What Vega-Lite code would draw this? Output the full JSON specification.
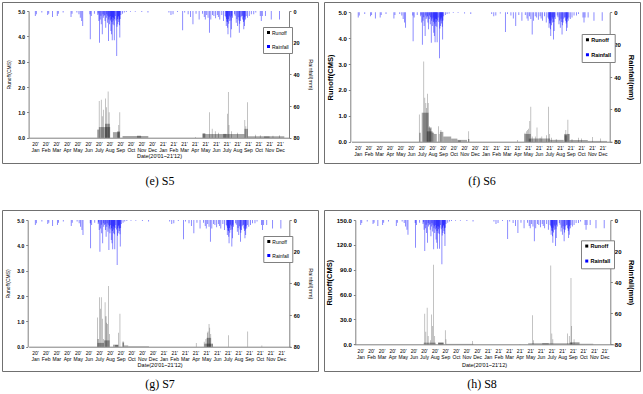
{
  "$schema": "https://vega.github.io/schema/vega-lite/v6.json",
  "padding": {"left": 1, "top": 1, "right": 0, "bottom": 0},
  "background": "white",
  "columns": 2,
  "spacing": {"row": 47, "column": 6},
  "bounds": "flush",
  "resolve": {"scale": {"color": "independent"}, "legend": {"color": "independent"}},
  "datasets": {
    "rain": [
      {"d":1,"mm":3.2},{"d":4,"mm":2},{"d":20,"mm":1},{"d":37,"mm":2.5},{"d":40,"mm":1.7},{"d":51,"mm":3.8},{"d":65,"mm":3.2},{"d":68,"mm":1.7},{"d":82,"mm":1},{"d":105,"mm":3.8},{"d":108,"mm":1.7},{"d":122,"mm":1},{"d":128,"mm":2},{"d":132,"mm":4.2},{"d":136,"mm":6.3},{"d":139,"mm":9.5},{"d":160,"mm":2},{"d":161,"mm":17.9},{"d":164,"mm":3.2},{"d":173,"mm":1.7},{"d":183,"mm":2.5},{"d":184,"mm":1.5},{"d":186,"mm":6.3},{"d":188,"mm":20},{"d":190,"mm":5.3},{"d":192,"mm":3},{"d":193,"mm":8.4},{"d":196,"mm":14.7},{"d":198,"mm":2},{"d":199,"mm":4.2},{"d":201,"mm":3.2},{"d":203,"mm":2.5},{"d":204,"mm":6.3},{"d":206,"mm":10.5},{"d":208,"mm":4.2},{"d":209,"mm":2},{"d":211,"mm":7.4},{"d":212,"mm":3},{"d":214,"mm":18.9},{"d":215,"mm":5.3},{"d":216,"mm":4},{"d":217,"mm":8.4},{"d":219,"mm":3.2},{"d":220,"mm":6},{"d":221,"mm":12.6},{"d":222,"mm":5},{"d":223,"mm":14.7},{"d":224,"mm":7},{"d":225,"mm":18.5},{"d":226,"mm":4},{"d":227,"mm":8.4},{"d":228,"mm":6},{"d":229,"mm":4.2},{"d":230,"mm":9},{"d":231,"mm":18.5},{"d":232,"mm":5},{"d":234,"mm":3.2},{"d":236,"mm":6},{"d":238,"mm":28.4},{"d":239,"mm":10},{"d":240,"mm":5},{"d":241,"mm":8.4},{"d":242,"mm":4},{"d":243,"mm":3.2},{"d":244,"mm":7},{"d":245,"mm":5.3},{"d":246,"mm":9},{"d":247,"mm":16.8},{"d":248,"mm":5},{"d":250,"mm":2.5},{"d":255,"mm":1.7},{"d":260,"mm":1},{"d":266,"mm":0.7},{"d":278,"mm":0.5},{"d":292,"mm":0.5},{"d":311,"mm":0.7},{"d":329,"mm":1},{"d":390,"mm":1},{"d":396,"mm":2.5},{"d":402,"mm":2},{"d":415,"mm":0.7},{"d":430,"mm":12.2},{"d":436,"mm":1},{"d":446,"mm":2},{"d":453,"mm":3.8},{"d":460,"mm":8.4},{"d":469,"mm":1.7},{"d":478,"mm":5.3},{"d":488,"mm":1.7},{"d":493,"mm":3.8},{"d":496,"mm":5.3},{"d":500,"mm":2.5},{"d":504,"mm":4.2},{"d":508,"mm":13.7},{"d":512,"mm":5.3},{"d":517,"mm":2.5},{"d":521,"mm":3.2},{"d":526,"mm":4.6},{"d":531,"mm":2.5},{"d":534,"mm":3.8},{"d":538,"mm":5.3},{"d":544,"mm":2.5},{"d":549,"mm":6.3},{"d":554,"mm":3.2},{"d":556,"mm":4},{"d":557,"mm":9.5},{"d":558,"mm":5},{"d":559,"mm":6.7},{"d":560,"mm":7},{"d":561,"mm":10.5},{"d":562,"mm":14.7},{"d":563,"mm":5},{"d":564,"mm":8},{"d":566,"mm":3},{"d":567,"mm":6.3},{"d":568,"mm":4},{"d":570,"mm":16.8},{"d":571,"mm":6},{"d":572,"mm":11.6},{"d":573,"mm":3},{"d":575,"mm":4.2},{"d":581,"mm":2},{"d":583,"mm":3},{"d":586,"mm":7.4},{"d":588,"mm":5},{"d":590,"mm":9.5},{"d":592,"mm":4},{"d":594,"mm":6},{"d":595,"mm":13.7},{"d":596,"mm":8},{"d":598,"mm":6.3},{"d":600,"mm":4},{"d":602,"mm":3.2},{"d":604,"mm":3},{"d":605,"mm":5.3},{"d":607,"mm":7},{"d":608,"mm":11.6},{"d":609,"mm":6},{"d":610,"mm":9.5},{"d":611,"mm":4},{"d":613,"mm":5.3},{"d":615,"mm":3.2},{"d":619,"mm":4.2},{"d":624,"mm":3.2},{"d":630,"mm":2},{"d":637,"mm":2},{"d":643,"mm":1},{"d":656,"mm":3.2},{"d":659,"mm":6.3},{"d":662,"mm":3.2},{"d":671,"mm":3.2},{"d":688,"mm":5.3},{"d":712,"mm":5.3}
    ],
    "S5": [
      {"d0":186,"d1":188,"v":1.45},{"d0":192,"d1":194,"v":1.5},{"d0":195,"d1":197,"v":0.85},{"d0":198,"d1":200,"v":1.1},{"d0":204,"d1":206,"v":1.55},{"d0":207,"d1":209,"v":1.2},{"d0":212,"d1":214,"v":1.82},{"d0":215,"d1":217,"v":1.0},
      {"d0":181,"d1":187,"v":0.32},{"d0":186,"d1":219,"v":0.42},{"d0":204,"d1":218,"v":0.55},
      {"d0":227,"d1":247,"v":0.22},{"d0":239,"d1":247,"v":0.25},{"d0":243,"d1":245,"v":0.5},{"d0":246,"d1":248,"v":1.0},
      {"d0":255,"d1":330,"v":0.07},{"d0":297,"d1":309,"v":0.08},
      {"d0":466,"d1":468,"v":0.03},{"d0":488,"d1":610,"v":0.15},{"d0":488,"d1":496,"v":0.18},{"d0":548,"d1":558,"v":0.15},{"d0":610,"d1":620,"v":0.35},{"d0":610,"d1":612,"v":0.7},{"d0":613,"d1":615,"v":0.45},{"d0":618,"d1":620,"v":1.4},{"d0":620,"d1":726,"v":0.06},{"d0":667,"d1":683,"v":0.05},
      {"d0":507,"d1":509,"v":1.0},{"d0":515,"d1":517,"v":0.35},{"d0":524,"d1":526,"v":0.25},{"d0":533,"d1":535,"v":0.2},{"d0":560,"d1":562,"v":0.95},{"d0":562,"d1":564,"v":1.8},{"d0":564,"d1":566,"v":0.5},{"d0":571,"d1":573,"v":0.25},{"d0":589,"d1":591,"v":0.2},{"d0":641,"d1":643,"v":0.12},{"d0":655,"d1":657,"v":0.1},{"d0":692,"d1":694,"v":0.08},{"d0":711,"d1":713,"v":0.1}
    ],
    "S6": [
      {"d0":178,"d1":180,"v":1.05},{"d0":179,"d1":183,"v":0.35},
      {"d0":186,"d1":206,"v":1.12},{"d0":206,"d1":215,"v":0.55},{"d0":215,"d1":222,"v":0.35},{"d0":201,"d1":218,"v":0.4},
      {"d0":191,"d1":193,"v":3.1},{"d0":194,"d1":196,"v":1.7},{"d0":197,"d1":199,"v":1.5},{"d0":199,"d1":201,"v":1.3},{"d0":202,"d1":204,"v":1.85},{"d0":204,"d1":206,"v":1.5},{"d0":208,"d1":210,"v":0.6},{"d0":211,"d1":213,"v":0.5},
      {"d0":221,"d1":230,"v":0.3},{"d0":234,"d1":236,"v":0.6},{"d0":236,"d1":238,"v":0.3},{"d0":239,"d1":249,"v":0.38},{"d0":241,"d1":243,"v":0.45},{"d0":249,"d1":272,"v":0.2},{"d0":272,"d1":290,"v":0.12},{"d0":290,"d1":318,"v":0.07},{"d0":292,"d1":300,"v":0.05},{"d0":322,"d1":324,"v":0.4},{"d0":321,"d1":325,"v":0.1},
      {"d0":464,"d1":466,"v":0.07},{"d0":485,"d1":504,"v":0.3},{"d0":486,"d1":488,"v":0.35},{"d0":490,"d1":492,"v":0.4},{"d0":493,"d1":495,"v":0.45},{"d0":496,"d1":498,"v":0.5},{"d0":500,"d1":502,"v":0.8},{"d0":503,"d1":505,"v":1.35},{"d0":498,"d1":504,"v":0.12},{"d0":504,"d1":560,"v":0.12},{"d0":507,"d1":509,"v":0.2},{"d0":516,"d1":518,"v":0.2},{"d0":521,"d1":523,"v":0.55},{"d0":530,"d1":532,"v":0.15},{"d0":535,"d1":537,"v":0.2},{"d0":549,"d1":551,"v":0.25},{"d0":555,"d1":557,"v":1.35},{"d0":558,"d1":560,"v":0.3},{"d0":563,"d1":565,"v":0.15},{"d0":560,"d1":600,"v":0.07},{"d0":577,"d1":579,"v":0.1},{"d0":601,"d1":617,"v":0.3},{"d0":602,"d1":610,"v":0.25},{"d0":605,"d1":607,"v":0.45},{"d0":611,"d1":613,"v":0.85},{"d0":614,"d1":616,"v":0.3},{"d0":617,"d1":670,"v":0.07},{"d0":623,"d1":625,"v":0.1},{"d0":642,"d1":644,"v":0.15},{"d0":651,"d1":653,"v":0.12},{"d0":683,"d1":685,"v":0.18},{"d0":706,"d1":708,"v":0.12},{"d0":670,"d1":726,"v":0.03}
    ],
    "S7": [
      {"d0":180,"d1":182,"v":1.15},{"d0":181,"d1":185,"v":0.3},
      {"d0":186,"d1":188,"v":1.95},{"d0":189,"d1":191,"v":1.5},{"d0":191,"d1":193,"v":1.95},{"d0":194,"d1":196,"v":1.1},{"d0":197,"d1":199,"v":0.3},
      {"d0":181,"d1":200,"v":0.15},{"d0":200,"d1":216,"v":0.25},
      {"d0":202,"d1":204,"v":1.75},{"d0":204,"d1":207,"v":1.2},{"d0":206,"d1":208,"v":0.95},{"d0":209,"d1":211,"v":0.9},{"d0":212,"d1":214,"v":2.4},{"d0":215,"d1":217,"v":0.5},
      {"d0":226,"d1":241,"v":0.08},{"d0":232,"d1":241,"v":0.07},{"d0":241,"d1":243,"v":0.55},{"d0":245,"d1":247,"v":1.3},
      {"d0":253,"d1":258,"v":0.2},{"d0":254,"d1":257,"v":0.15},{"d0":258,"d1":270,"v":0.05},{"d0":270,"d1":330,"v":0.02},
      {"d0":466,"d1":468,"v":0.15},{"d0":490,"d1":515,"v":0.12},{"d0":497,"d1":510,"v":0.35},{"d0":489,"d1":491,"v":0.2},{"d0":494,"d1":496,"v":0.3},{"d0":498,"d1":500,"v":0.55},{"d0":500,"d1":502,"v":0.6},{"d0":503,"d1":505,"v":0.9},{"d0":505,"d1":507,"v":0.75},{"d0":508,"d1":510,"v":0.5},{"d0":513,"d1":515,"v":0.12},{"d0":559,"d1":561,"v":0.45},{"d0":615,"d1":617,"v":0.6},{"d0":656,"d1":658,"v":0.05}
    ],
    "S8": [
      {"d0":187,"d1":189,"v":37},{"d0":190,"d1":192,"v":15},{"d0":194,"d1":196,"v":44},{"d0":197,"d1":199,"v":10},{"d0":204,"d1":206,"v":5},{"d0":207,"d1":209,"v":36},{"d0":210,"d1":212,"v":22},{"d0":213,"d1":215,"v":96},{"d0":216,"d1":218,"v":10},{"d0":185,"d1":220,"v":2},
      {"d0":227,"d1":243,"v":2.2},{"d0":227,"d1":243,"v":1.8},{"d0":247,"d1":249,"v":17},{"d0":249,"d1":251,"v":6},{"d0":250,"d1":330,"v":0.5},{"d0":326,"d1":328,"v":4},
      {"d0":465,"d1":467,"v":0.5},{"d0":490,"d1":620,"v":1.2},{"d0":531,"d1":550,"v":1.3},{"d0":620,"d1":680,"v":0.8},{"d0":612,"d1":640,"v":2.5},
      {"d0":502,"d1":504,"v":35},{"d0":505,"d1":507,"v":5},{"d0":555,"d1":557,"v":95},{"d0":558,"d1":560,"v":13},{"d0":561,"d1":563,"v":6},{"d0":604,"d1":606,"v":13},{"d0":609,"d1":611,"v":10},{"d0":614,"d1":616,"v":80},{"d0":616,"d1":618,"v":22},{"d0":623,"d1":625,"v":6}
    ]
  },
  "concat": [
    {
      "width": 316, "height": 161,
      "title": {"text": "(e) S5", "orient": "bottom", "offset": 13},
      "layer": [
        {
          "data": {"name": "S5"},
          "mark": {"type": "rect", "opacity": 0.35},
          "encoding": {
            "x": {"field": "d0", "type": "quantitative", "scale": {"domain": [-4, 726], "range": [26.6, 287.3], "nice": false, "zero": false},
                  "axis": {"orient": "bottom", "offset": -25.3, "values": [0,31,62,93,124,155,186,217,248,279,310,341,372,403,434,465,496,527,558,589,620,651,682,713], "labelExpr": "[datum.value < 366 ? \"20'\" : \"21'\", ['Jan','Feb','Mar','Apr','May','Jun','July','Aug','Sep','Oct','Nov','Dec'][round(datum.value / 31) % 12]]", "ticks": false, "labelFontSize": 5, "labelLineHeight": 6, "labelPadding": 4, "labelOverlap": false, "labelFlush": false, "labelAngle": 0, "domainColor": "#808080", "title": "Date(20'01~21'12)", "titleFontSize": 5.5, "titleFontWeight": "normal", "titlePadding": 1}},
            "x2": {"field": "d1"},
            "y": {"field": "v", "type": "quantitative", "scale": {"domain": [0, 5], "range": [135.7, 9], "nice": false},
                  "axis": {"orient": "left", "offset": -26.6, "values": [0,1,2,3,4,5], "format": ".1f", "labelFontSize": 5, "labelFontWeight": "bold", "tickSize": 2, "tickColor": "#808080", "domainColor": "#808080", "labelPadding": 2, "title": "Runoff(CMS)", "titleFontSize": 5, "titleFontWeight": "normal", "titlePadding": 6}},
            "y2": {"datum": 0},
            "color": {"datum": "Runoff", "type": "nominal", "scale": {"domain": ["Runoff", "Rainfall"], "range": ["#000000", "#0000ff"]},
                      "legend": {"title": null, "orient": "none", "legendX": 261, "legendY": 25, "symbolType": "square", "symbolSize": 9, "symbolOpacity": 1, "symbolStrokeWidth": 0, "labelFontSize": 5, "labelOffset": 1, "rowPadding": 8, "padding": 3, "strokeColor": "#808080", "fillColor": "#ffffff", "encode": {"symbols": {"update": {"opacity": {"value": 1}, "fillOpacity": {"value": 1}}}}}}
          }
        },
        {
          "data": {"name": "rain"},
          "mark": {"type": "bar", "orient": "vertical", "width": 0.9, "opacity": 0.5},
          "encoding": {
            "x": {"field": "d", "type": "quantitative", "scale": {"domain": [-4, 726], "range": [26.6, 287.3], "nice": false, "zero": false},
                  "axis": {"orient": "bottom", "offset": -25.3, "values": [0,31,62,93,124,155,186,217,248,279,310,341,372,403,434,465,496,527,558,589,620,651,682,713], "labelExpr": "[datum.value < 366 ? \"20'\" : \"21'\", ['Jan','Feb','Mar','Apr','May','Jun','July','Aug','Sep','Oct','Nov','Dec'][round(datum.value / 31) % 12]]", "ticks": false, "labelFontSize": 5, "labelLineHeight": 6, "labelPadding": 4, "labelOverlap": false, "labelFlush": false, "labelAngle": 0, "domainColor": "#808080", "title": "Date(20'01~21'12)", "titleFontSize": 5.5, "titleFontWeight": "normal", "titlePadding": 1}},
            "y": {"field": "mm", "type": "quantitative", "scale": {"domain": [0, 80], "range": [9, 135.7], "nice": false},
                  "axis": {"orient": "right", "offset": -29, "values": [0,20,40,60,80], "labelFontSize": 5.5, "labelFontWeight": "bold", "tickSize": 2, "tickColor": "#808080", "domainColor": "#808080", "labelPadding": 2, "title": "Rainfall(mm)", "titleFontSize": 5.5, "titleFontWeight": "normal", "titlePadding": 8}},
            "color": {"datum": "Rainfall", "type": "nominal"}
          }
        }
      ],
      "resolve": {"scale": {"y": "independent"}}
    },
    {
      "width": 316, "height": 161,
      "title": {"text": "(f) S6", "orient": "bottom", "offset": 13},
      "layer": [
        {
          "data": {"name": "S6"},
          "mark": {"type": "rect", "opacity": 0.35},
          "encoding": {
            "x": {"field": "d0", "type": "quantitative", "scale": {"domain": [-4, 726], "range": [27.5, 288], "nice": false, "zero": false},
                  "axis": {"orient": "bottom", "offset": -21.3, "values": [0,31,62,93,124,155,186,217,248,279,310,341,372,403,434,465,496,527,558,589,620,651,682,713], "labelExpr": "[datum.value < 366 ? \"20'\" : \"21'\", ['Jan','Feb','Mar','Apr','May','Jun','July','Aug','Sep','Oct','Nov','Dec'][round(datum.value / 31) % 12]]", "ticks": false, "labelFontSize": 5, "labelLineHeight": 6, "labelPadding": 4, "labelOverlap": false, "labelFlush": false, "labelAngle": 0, "domainColor": "#808080", "title": null}},
            "x2": {"field": "d1"},
            "y": {"field": "v", "type": "quantitative", "scale": {"domain": [0, 5], "range": [139.7, 10.3], "nice": false},
                  "axis": {"orient": "left", "offset": -26.3, "values": [0,1,2,3,4,5], "format": ".1f", "labelFontSize": 6, "labelFontWeight": "bold", "tickSize": 2, "tickColor": "#808080", "domainColor": "#808080", "labelPadding": 2, "title": "Runoff(CMS)", "titleFontSize": 7.5, "titleFontWeight": "bold", "titlePadding": 3}},
            "y2": {"datum": 0},
            "color": {"datum": "Runoff", "type": "nominal", "scale": {"domain": ["Runoff", "Rainfall"], "range": ["#000000", "#0000ff"]},
                      "legend": {"title": null, "orient": "none", "legendX": 257.7, "legendY": 32, "symbolType": "square", "symbolSize": 9, "symbolOpacity": 1, "symbolStrokeWidth": 0, "labelFontSize": 5.5, "labelFontWeight": "bold", "labelOffset": 1, "rowPadding": 8, "padding": 3, "strokeColor": "#808080", "fillColor": "#ffffff", "encode": {"symbols": {"update": {"opacity": {"value": 1}, "fillOpacity": {"value": 1}}}}}}
          }
        },
        {
          "data": {"name": "rain"},
          "mark": {"type": "bar", "orient": "vertical", "width": 0.9, "opacity": 0.5},
          "encoding": {
            "x": {"field": "d", "type": "quantitative", "scale": {"domain": [-4, 726], "range": [27.5, 288], "nice": false, "zero": false},
                  "axis": {"orient": "bottom", "offset": -21.3, "values": [0,31,62,93,124,155,186,217,248,279,310,341,372,403,434,465,496,527,558,589,620,651,682,713], "labelExpr": "[datum.value < 366 ? \"20'\" : \"21'\", ['Jan','Feb','Mar','Apr','May','Jun','July','Aug','Sep','Oct','Nov','Dec'][round(datum.value / 31) % 12]]", "ticks": false, "labelFontSize": 5, "labelLineHeight": 6, "labelPadding": 4, "labelOverlap": false, "labelFlush": false, "labelAngle": 0, "domainColor": "#808080", "title": null}},
            "y": {"field": "mm", "type": "quantitative", "scale": {"domain": [0, 80], "range": [10.3, 139.7], "nice": false},
                  "axis": {"orient": "right", "offset": -30.3, "values": [0,20,40,60,80], "labelFontSize": 6, "labelFontWeight": "bold", "tickSize": 2, "tickColor": "#808080", "domainColor": "#808080", "labelPadding": 2, "title": "Rainfall(mm)", "titleFontSize": 7.5, "titleFontWeight": "bold", "titlePadding": 6}},
            "color": {"datum": "Rainfall", "type": "nominal"}
          }
        }
      ],
      "resolve": {"scale": {"y": "independent"}}
    },
    {
      "width": 316, "height": 161,
      "title": {"text": "(g) S7", "orient": "bottom", "offset": 8},
      "layer": [
        {
          "data": {"name": "S7"},
          "mark": {"type": "rect", "opacity": 0.35},
          "encoding": {
            "x": {"field": "d0", "type": "quantitative", "scale": {"domain": [-4, 726], "range": [26.6, 288.7], "nice": false, "zero": false},
                  "axis": {"orient": "bottom", "offset": -24.3, "values": [0,31,62,93,124,155,186,217,248,279,310,341,372,403,434,465,496,527,558,589,620,651,682,713], "labelExpr": "[datum.value < 366 ? \"20'\" : \"21'\", ['Jan','Feb','Mar','Apr','May','Jun','July','Aug','Sep','Oct','Nov','Dec'][round(datum.value / 31) % 12]]", "ticks": false, "labelFontSize": 5, "labelLineHeight": 6, "labelPadding": 4, "labelOverlap": false, "labelFlush": false, "labelAngle": 0, "domainColor": "#808080", "title": "Date(20'01~21'12)", "titleFontSize": 5.5, "titleFontWeight": "normal", "titlePadding": 1}},
            "x2": {"field": "d1"},
            "y": {"field": "v", "type": "quantitative", "scale": {"domain": [0, 5], "range": [136.7, 10], "nice": false},
                  "axis": {"orient": "left", "offset": -25.7, "values": [0,1,2,3,4,5], "format": ".1f", "labelFontSize": 5, "labelFontWeight": "bold", "tickSize": 2, "tickColor": "#808080", "domainColor": "#808080", "labelPadding": 2, "title": "Runoff(CMS)", "titleFontSize": 5, "titleFontWeight": "normal", "titlePadding": 6}},
            "y2": {"datum": 0},
            "color": {"datum": "Runoff", "type": "nominal", "scale": {"domain": ["Runoff", "Rainfall"], "range": ["#000000", "#0000ff"]},
                      "legend": {"title": null, "orient": "none", "legendX": 261.3, "legendY": 26, "symbolType": "square", "symbolSize": 9, "symbolOpacity": 1, "symbolStrokeWidth": 0, "labelFontSize": 5, "labelOffset": 1, "rowPadding": 8, "padding": 3, "strokeColor": "#808080", "fillColor": "#ffffff", "encode": {"symbols": {"update": {"opacity": {"value": 1}, "fillOpacity": {"value": 1}}}}}}
          }
        },
        {
          "data": {"name": "rain"},
          "mark": {"type": "bar", "orient": "vertical", "width": 0.9, "opacity": 0.5},
          "encoding": {
            "x": {"field": "d", "type": "quantitative", "scale": {"domain": [-4, 726], "range": [26.6, 288.7], "nice": false, "zero": false},
                  "axis": {"orient": "bottom", "offset": -24.3, "values": [0,31,62,93,124,155,186,217,248,279,310,341,372,403,434,465,496,527,558,589,620,651,682,713], "labelExpr": "[datum.value < 366 ? \"20'\" : \"21'\", ['Jan','Feb','Mar','Apr','May','Jun','July','Aug','Sep','Oct','Nov','Dec'][round(datum.value / 31) % 12]]", "ticks": false, "labelFontSize": 5, "labelLineHeight": 6, "labelPadding": 4, "labelOverlap": false, "labelFlush": false, "labelAngle": 0, "domainColor": "#808080", "title": "Date(20'01~21'12)", "titleFontSize": 5.5, "titleFontWeight": "normal", "titlePadding": 1}},
            "y": {"field": "mm", "type": "quantitative", "scale": {"domain": [0, 80], "range": [10, 136.7], "nice": false},
                  "axis": {"orient": "right", "offset": -28.7, "values": [0,20,40,60,80], "labelFontSize": 5.5, "labelFontWeight": "bold", "tickSize": 2, "tickColor": "#808080", "domainColor": "#808080", "labelPadding": 2, "title": "Rainfall(mm)", "titleFontSize": 5.5, "titleFontWeight": "normal", "titlePadding": 8}},
            "color": {"datum": "Rainfall", "type": "nominal"}
          }
        }
      ],
      "resolve": {"scale": {"y": "independent"}}
    },
    {
      "width": 316, "height": 161,
      "title": {"text": "(h) S8", "orient": "bottom", "offset": 8},
      "layer": [
        {
          "data": {"name": "S8"},
          "mark": {"type": "rect", "opacity": 0.35},
          "encoding": {
            "x": {"field": "d0", "type": "quantitative", "scale": {"domain": [-4, 726], "range": [30, 290], "nice": false, "zero": false},
                  "axis": {"orient": "bottom", "offset": -26.7, "values": [0,31,62,93,124,155,186,217,248,279,310,341,372,403,434,465,496,527,558,589,620,651,682,713], "labelExpr": "[datum.value < 366 ? \"20'\" : \"21'\", ['Jan','Feb','Mar','Apr','May','Jun','July','Aug','Sep','Oct','Nov','Dec'][round(datum.value / 31) % 12]]", "ticks": false, "labelFontSize": 5, "labelLineHeight": 6, "labelPadding": 4, "labelOverlap": false, "labelFlush": false, "labelAngle": 0, "domainColor": "#808080", "title": "Date(20'01~21'12)", "titleFontSize": 5.5, "titleFontWeight": "normal", "titlePadding": 3}},
            "x2": {"field": "d1"},
            "y": {"field": "v", "type": "quantitative", "scale": {"domain": [0, 150], "range": [134.3, 10], "nice": false},
                  "axis": {"orient": "left", "offset": -31.3, "values": [0,30,60,90,120,150], "format": ".1f", "labelFontSize": 6, "labelFontWeight": "bold", "tickSize": 2, "tickColor": "#808080", "domainColor": "#808080", "labelPadding": 2, "title": "Runoff(CMS)", "titleFontSize": 7.5, "titleFontWeight": "bold", "titlePadding": 3}},
            "y2": {"datum": 0},
            "color": {"datum": "Runoff", "type": "nominal", "scale": {"domain": ["Runoff", "Rainfall"], "range": ["#000000", "#0000ff"]},
                      "legend": {"title": null, "orient": "none", "legendX": 257, "legendY": 30.3, "symbolType": "square", "symbolSize": 9, "symbolOpacity": 1, "symbolStrokeWidth": 0, "labelFontSize": 5.5, "labelFontWeight": "bold", "labelOffset": 1, "rowPadding": 8, "padding": 3, "strokeColor": "#808080", "fillColor": "#ffffff", "encode": {"symbols": {"update": {"opacity": {"value": 1}, "fillOpacity": {"value": 1}}}}}}
          }
        },
        {
          "data": {"name": "rain"},
          "mark": {"type": "bar", "orient": "vertical", "width": 0.9, "opacity": 0.5},
          "encoding": {
            "x": {"field": "d", "type": "quantitative", "scale": {"domain": [-4, 726], "range": [30, 290], "nice": false, "zero": false},
                  "axis": {"orient": "bottom", "offset": -26.7, "values": [0,31,62,93,124,155,186,217,248,279,310,341,372,403,434,465,496,527,558,589,620,651,682,713], "labelExpr": "[datum.value < 366 ? \"20'\" : \"21'\", ['Jan','Feb','Mar','Apr','May','Jun','July','Aug','Sep','Oct','Nov','Dec'][round(datum.value / 31) % 12]]", "ticks": false, "labelFontSize": 5, "labelLineHeight": 6, "labelPadding": 4, "labelOverlap": false, "labelFlush": false, "labelAngle": 0, "domainColor": "#808080", "title": "Date(20'01~21'12)", "titleFontSize": 5.5, "titleFontWeight": "normal", "titlePadding": 3}},
            "y": {"field": "mm", "type": "quantitative", "scale": {"domain": [0, 80], "range": [10, 134.3], "nice": false},
                  "axis": {"orient": "right", "offset": -29.7, "values": [0,20,40,60,80], "labelFontSize": 6, "labelFontWeight": "bold", "tickSize": 2, "tickColor": "#808080", "domainColor": "#808080", "labelPadding": 2, "title": "Rainfall(mm)", "titleFontSize": 7.5, "titleFontWeight": "bold", "titlePadding": 6}},
            "color": {"datum": "Rainfall", "type": "nominal"}
          }
        }
      ],
      "resolve": {"scale": {"y": "independent"}}
    }
  ],
  "config": {
    "font": "Liberation Sans",
    "view": {"stroke": "#707070", "strokeWidth": 1},
    "axis": {"grid": false, "labelColor": "#000000", "titleColor": "#000000", "labelFont": "Liberation Sans", "titleFont": "Liberation Sans"},
    "legend": {"labelFont": "Liberation Sans", "labelColor": "#000000"},
    "title": {"font": "Liberation Serif", "fontSize": 12, "fontWeight": "normal", "color": "#000000", "anchor": "middle"}
  }
}
